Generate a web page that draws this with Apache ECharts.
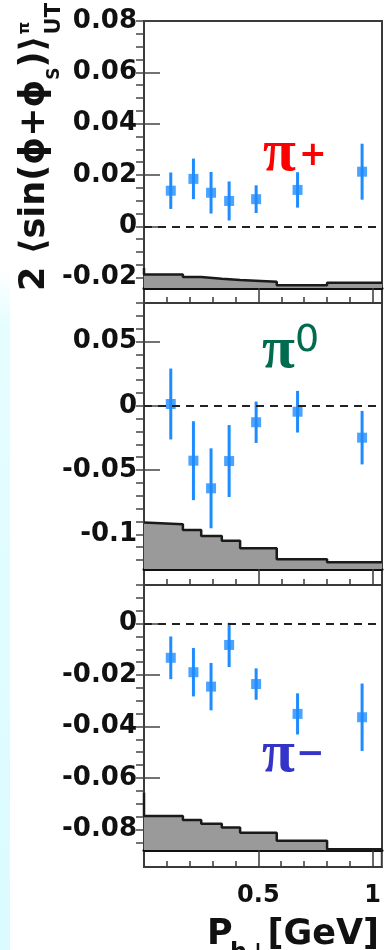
<!DOCTYPE html>
<html>
<head>
<meta charset="utf-8">
<script src="https://cdn.jsdelivr.net/npm/echarts@6/dist/echarts.min.js"></script>
<style>
  html, body { margin: 0; padding: 0; background: #ffffff; }
  #chart { width: 384px; height: 950px; }
</style>
</head>
<body>
<div id="chart"></div>
<script>
// P_h⊥ bin centres shared by the three pion panels [GeV]
const ptCenters = [0.117, 0.216, 0.293, 0.372, 0.490, 0.671, 0.953];

// 2<sin(phi+phi_S)>_UT amplitudes and statistical errors
const piPlus     = [0.0139, 0.0185, 0.0131, 0.0099, 0.0106, 0.0142, 0.0213];
const piPlusErr  = [0.0071, 0.0079, 0.0081, 0.0076, 0.0054, 0.0069, 0.0109];
const piZero     = [0.0014, -0.0427, -0.0642, -0.0430, -0.0128, -0.0046, -0.0248];
const piZeroErr  = [0.0276, 0.0307, 0.0311, 0.0280, 0.0161, 0.0162, 0.0208];
const piMinus    = [-0.0133, -0.0189, -0.0245, -0.0083, -0.0235, -0.0351, -0.0364];
const piMinusErr = [0.0083, 0.0094, 0.0092, 0.0086, 0.0061, 0.0080, 0.0131];

// Systematic band: bin edges, band tops, and the height of the leading edge
const sysEdges = [0, 0.17, 0.25, 0.34, 0.42, 0.58, 0.80, 1.04];
const sysPlus  = [-0.0187, -0.0197, -0.0204, -0.0209, -0.0216, -0.0229, -0.0220];
const sysZero  = [-0.0922, -0.0967, -0.1013, -0.1050, -0.1109, -0.1195, -0.1218];
const sysMinus = [-0.0748, -0.0763, -0.0778, -0.0793, -0.0813, -0.0844, -0.0877];
const sysLead  = [-0.0162, -0.0908, -0.0657];

// Tick labels
const yLabelsPlus  = ['-0.02', '0', '0.02', '0.04', '0.06', '0.08'];
const yLabelsZero  = ['-0.1', '-0.05', '0', '0.05'];
const yLabelsMinus = ['-0.08', '-0.06', '-0.04', '-0.02', '0'];
const xLabels      = ['0.5', '1'];

// ---------------------------------------------------------------------------
const X_MAX = 1.04;
const LEFT = 144, WIDTH = 238;
const FRAME = '#3a3a3a';
const BLUE = '#1e8cff';
const LABEL_FONT = 'DejaVu Sans';
const PI_FONT = 'bold 60px "Liberation Serif"';

function steps(start, stop, step) {
  const out = [];
  const n = Math.round((stop - start) / step);
  for (let i = 0; i <= n; i++) out.push(+(start + i * step).toFixed(4));
  return out;
}

const xMinor = steps(0.1, 1.0, 0.1);
const xMajor = xLabels.map(Number);

const panels = [
  { top: 21,  height: 267, strip: 15, min: -0.024, max: 0.08,
    vals: piPlus,  errs: piPlusErr,  sys: sysPlus,  lead: sysLead[0],
    labels: yLabelsPlus,  minor: steps(-0.02, 0.08, 0.005) },
  { top: 303, height: 266, strip: 16, min: -0.127, max: 0.08,
    vals: piZero,  errs: piZeroErr,  sys: sysZero,  lead: sysLead[1],
    labels: yLabelsZero,  minor: steps(-0.12, 0.08, 0.01) },
  { top: 585, height: 265, strip: 17, min: -0.088, max: 0.015,
    vals: piMinus, errs: piMinusErr, sys: sysMinus, lead: sysLead[2],
    labels: yLabelsMinus, minor: steps(-0.085, 0.015, 0.005) }
];

const grid = [], xAxis = [], yAxis = [], series = [];

panels.forEach((p, i) => {
  const isLast = i === panels.length - 1;
  const gPlot = 2 * i, gStrip = 2 * i + 1;

  grid.push({ left: LEFT, width: WIDTH, top: p.top, height: p.height,
              show: true, borderColor: FRAME, borderWidth: 2 });
  grid.push({ left: LEFT, width: WIDTH, top: p.top + p.height, height: p.strip,
              show: true, borderColor: FRAME, borderWidth: 2 });

  // x axes: plot frame bottom, strip minor ticks, strip major ticks (+ labels)
  xAxis.push({ gridIndex: gPlot, type: 'value', min: 0, max: X_MAX,
    axisLine: { show: true, onZero: false, lineStyle: { color: '#111', width: 3 } },
    axisTick: { show: false }, axisLabel: { show: false }, splitLine: { show: false } });
  xAxis.push({ gridIndex: gStrip, type: 'value', min: 0, max: X_MAX, position: 'bottom',
    axisLine: { show: true, onZero: false, lineStyle: { color: FRAME, width: 2 } },
    axisTick: { show: true, inside: true, length: 6, customValues: xMinor,
                lineStyle: { color: FRAME, width: 1.5 } },
    axisLabel: { show: false }, splitLine: { show: false } });
  xAxis.push({ gridIndex: gStrip, type: 'value', min: 0, max: X_MAX, position: 'bottom',
    axisLine: { show: false },
    axisTick: { show: true, inside: true, length: p.strip, customValues: xMajor,
                lineStyle: { color: FRAME, width: 1.5 } },
    axisLabel: isLast ? {
      show: true, customValues: xMajor, margin: 17,
      formatter: v => xLabels[xMajor.findIndex(t => Math.abs(t - v) < 1e-9)],
      fontFamily: LABEL_FONT, fontWeight: 'bold', fontSize: 24, color: '#111'
    } : { show: false },
    splitLine: { show: false } });

  // y axes: major ticks + labels, minor ticks, hidden strip axis
  const majors = p.labels.map(Number);
  yAxis.push({ gridIndex: gPlot, type: 'value', min: p.min, max: p.max,
    axisLine: { show: true, onZero: false, lineStyle: { color: FRAME, width: 2 } },
    axisTick: { show: true, inside: true, length: 16, customValues: majors,
                lineStyle: { color: '#444', width: 1.5 } },
    axisLabel: { show: true, customValues: majors, margin: 7,
      formatter: v => p.labels[majors.findIndex(t => Math.abs(t - v) < 1e-9)],
      fontFamily: LABEL_FONT, fontWeight: 'bold', fontSize: 26, color: '#111' },
    splitLine: { show: false } });
  yAxis.push({ gridIndex: gPlot, type: 'value', min: p.min, max: p.max,
    axisLine: { show: false },
    axisTick: { show: true, inside: true, length: 8, customValues: p.minor,
                lineStyle: { color: '#444', width: 1.5 } },
    axisLabel: { show: false }, splitLine: { show: false } });
  yAxis.push({ gridIndex: gStrip, type: 'value', min: 0, max: 1, show: false });

  // systematic band as a filled step outline
  const band = [[sysEdges[0], p.lead]];
  p.sys.forEach((v, k) => { band.push([sysEdges[k], v], [sysEdges[k + 1], v]); });

  series.push({
    type: 'line', xAxisIndex: 3 * i, yAxisIndex: 3 * i, data: band,
    symbol: 'none', silent: true, z: 2,
    lineStyle: { color: '#1a1a1a', width: 2.5 },
    areaStyle: { color: '#9a9a9a', opacity: 1, origin: 'start' },
    markLine: { silent: true, symbol: ['none', 'none'], label: { show: false },
                lineStyle: { color: '#222', type: [8, 6], width: 2 },
                data: [{ yAxis: 0 }] }
  });

  series.push({
    type: 'custom', xAxisIndex: 3 * i, yAxisIndex: 3 * i, z: 3, silent: true,
    data: ptCenters.map((x, k) => [x, p.vals[k] - p.errs[k], p.vals[k] + p.errs[k]]),
    encode: { x: 0, y: [1, 2] },
    renderItem(params, api) {
      const a = api.coord([api.value(0), api.value(1)]);
      const b = api.coord([api.value(0), api.value(2)]);
      return { type: 'line', shape: { x1: a[0], y1: a[1], x2: b[0], y2: b[1] },
               style: { stroke: BLUE, lineWidth: 3 } };
    }
  });

  series.push({
    type: 'scatter', xAxisIndex: 3 * i, yAxisIndex: 3 * i, z: 4, silent: true,
    data: ptCenters.map((x, k) => [x, p.vals[k]]),
    symbol: 'rect', symbolSize: 10, itemStyle: { color: BLUE }
  });
});

const bold = size => `bold ${size}px "${LABEL_FONT}"`;
const rot = Math.PI / 2;

// y-axis title, laid out piece by piece reading upwards along the left edge
const measure = document.createElement('canvas').getContext('2d');
function textWidth(str, font) { measure.font = font; return measure.measureText(str).width; }

const titlePieces = [
  { text: '2 ⟨sin(ϕ+ϕ', font: bold(35), x: 35 },
  { text: 'S',          font: bold(17), x: 55 },
  { text: ')⟩',         font: bold(35), x: 35 }
];
const titleGraphics = [];
let cursor = 291;
titlePieces.forEach(piece => {
  titleGraphics.push({ type: 'text', x: piece.x, y: cursor, rotation: rot, silent: true,
    style: { text: piece.text, font: piece.font, fill: '#111',
             textAlign: 'left', textVerticalAlign: 'middle' } });
  cursor -= textWidth(piece.text, piece.font);
});
titleGraphics.push(
  { type: 'text', x: 25, y: cursor - 1, rotation: rot, silent: true,
    style: { text: 'π', font: bold(16), fill: '#111', textAlign: 'left', textVerticalAlign: 'middle' } },
  { type: 'text', x: 55, y: cursor - 1, rotation: rot, silent: true,
    style: { text: 'UT', font: bold(21), fill: '#111', textAlign: 'left', textVerticalAlign: 'middle' } }
);

const graphic = [
  // pale strip along the left edge
  { type: 'rect', shape: { x: 0, y: 270, width: 10, height: 680 }, silent: true,
    style: { fill: new echarts.graphic.LinearGradient(0, 0, 0, 1, [
      { offset: 0, color: 'rgba(225,252,255,0)' },
      { offset: 0.08, color: '#e6fdff' },
      { offset: 1, color: '#dafbff' }]) } },

  ...titleGraphics,

  // x-axis title: P_h⊥ [GeV]
  { type: 'text', x: 207, y: 935,
    style: { text: 'P', font: bold(35), fill: '#111', textAlign: 'left', textVerticalAlign: 'middle' } },
  { type: 'text', x: 230, y: 954,
    style: { text: 'h⊥', font: bold(24), fill: '#111', textAlign: 'left', textVerticalAlign: 'middle' } },
  { type: 'text', x: 379, y: 935,
    style: { text: '[GeV]', font: bold(35), fill: '#111', textAlign: 'right', textVerticalAlign: 'middle' } },

  // particle labels
  { type: 'text', x: 263, y: 154,
    style: { text: 'π', font: PI_FONT, fill: '#ff0000', textAlign: 'left', textVerticalAlign: 'middle' } },
  { type: 'text', x: 299, y: 156,
    style: { text: '+', font: bold(33), fill: '#ff0000', textAlign: 'left', textVerticalAlign: 'middle' } },

  { type: 'text', x: 262, y: 351,
    style: { text: 'π', font: PI_FONT, fill: '#006b4f', textAlign: 'left', textVerticalAlign: 'middle' } },
  { type: 'text', x: 295, y: 341,
    style: { text: '0', font: '38px "DejaVu Sans"', fill: '#006b4f', textAlign: 'left', textVerticalAlign: 'middle' } },

  { type: 'text', x: 262, y: 755,
    style: { text: 'π', font: PI_FONT, fill: '#3434c8', textAlign: 'left', textVerticalAlign: 'middle' } },
  { type: 'text', x: 296, y: 755,
    style: { text: '−', font: bold(34), fill: '#3434c8', textAlign: 'left', textVerticalAlign: 'middle' } }
];

const chart = echarts.init(document.getElementById('chart'), null, { renderer: 'canvas' });
chart.setOption({
  animation: false,
  backgroundColor: '#ffffff',
  grid, xAxis, yAxis, series, graphic
});
</script>
</body>
</html>
